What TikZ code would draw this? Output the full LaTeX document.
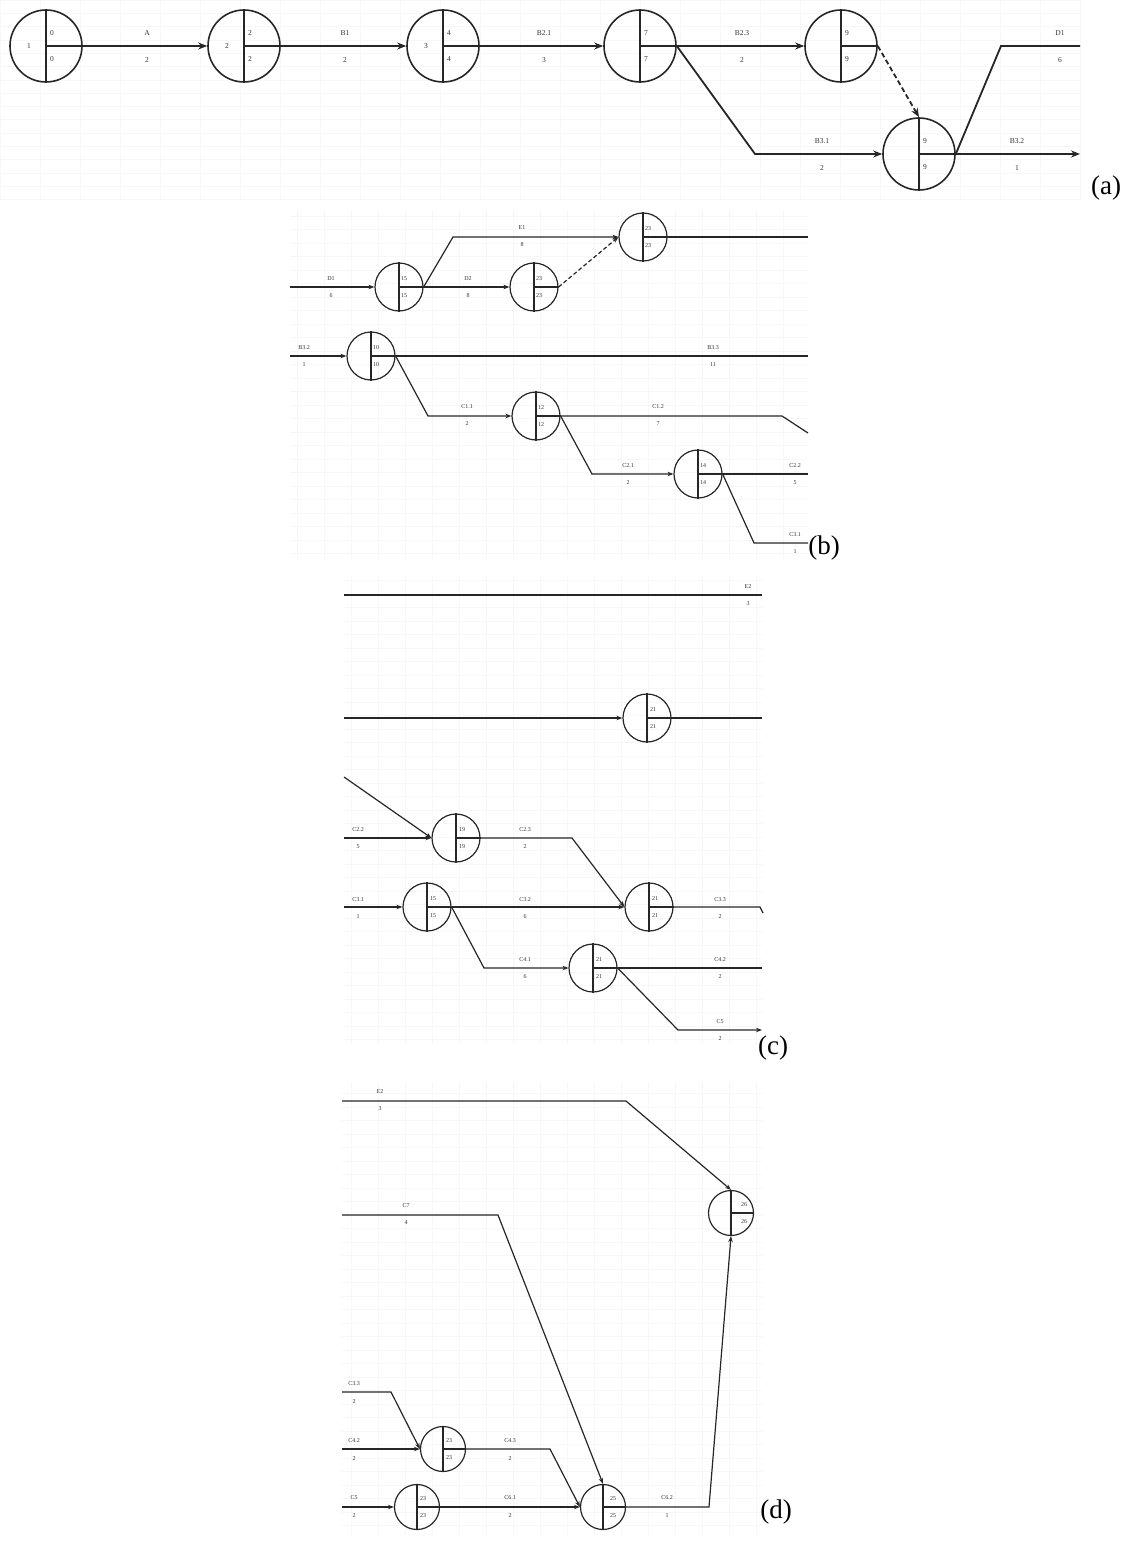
\documentclass[tikz,border=0pt]{standalone}
\usepackage{fontspec}
\setmainfont{Liberation Serif}
\usetikzlibrary{arrows.meta,calc}

\tikzset{
  gridl/.style={draw=black!3, line width=0.5pt},
  eva/.style={circle, draw=black!85, line width=1.6pt, minimum size=72pt, inner sep=0pt},
  evb/.style={circle, draw=black!85, line width=1.2pt, minimum size=48pt, inner sep=0pt},
  evd/.style={circle, draw=black!85, line width=1.2pt, minimum size=45pt, inner sep=0pt},
  linea/.style={draw=black!85, line width=1.8pt},
  lineb/.style={draw=black!85, line width=1.2pt},
  arra/.style={linea, -{Stealth[length=9pt, width=7pt]}},
  arrb/.style={lineb, -{Stealth[length=6pt, width=4.5pt]}},
  txa/.style={font=\fontsize{7.5}{9}\selectfont, text=black!80, inner sep=0pt},
  txb/.style={font=\fontsize{6}{7}\selectfont, text=black!80, inner sep=0pt},
  capt/.style={font=\fontsize{27}{30}\selectfont, inner sep=0pt}
}

% event node of part (a): name, position, top, bottom
\newcommand\evta[4]{%
  \node[eva] (#1) at (#2) {};
  \draw[linea] (#1.north) -- (#1.south);
  \draw[linea] (#1.center) -- (#1.east);
  \node[txa, anchor=west] (#1-t) at ($(#1.center)+(4,-13)$) {#3};
  \node[txa, anchor=west] (#1-b) at ($(#1.center)+(4,13)$) {#4};
}
% event node of parts (b)-(d): style, name, position, top, bottom, text shift
\newcommand\evtb[6]{%
  \node[#1] (#2) at (#3) {};
  \draw[lineb] (#2.north) -- (#2.south);
  \draw[lineb] (#2.center) -- (#2.east);
  \node[txb, anchor=west] (#2-t) at ($(#2.center)+(#6,-8)$) {#4};
  \node[txb, anchor=west] (#2-b) at ($(#2.center)+(#6,9)$) {#5};
}

\begin{document}
\begin{tikzpicture}[x=1pt, y=-1pt]
\useasboundingbox (0,0) rectangle (1126,1541);

% faint background grids
\draw[gridl, xstep=40pt, ystep=13.3pt] (0,0) grid (1080,200);
\draw[gridl, xstep=27pt, ystep=13.5pt] (290,210) grid (808,560);
\draw[gridl, xstep=27pt, ystep=13.5pt] (344,575) grid (762,1045);
\draw[gridl, xstep=27pt, ystep=13.5pt] (342,1082) grid (762,1535);

% ---------------- (a) ----------------
\evta{n1}{46,46}{0}{0}
\evta{n2}{244,46}{2}{2}
\evta{n3}{443,46}{4}{4}
\evta{n4}{640,46}{7}{7}
\evta{n5}{841,46}{9}{9}
\evta{n6}{919,154}{9}{9}
\node[txa] (n1-n) at ($(n1.center)+(-17,0)$) {1};
\node[txa] (n2-n) at ($(n2.center)+(-17,0)$) {2};
\node[txa] (n3-n) at ($(n3.center)+(-17,0)$) {3};

\coordinate (a31) at (755,154);
\coordinate (ad1) at (1001,46);
\coordinate (ad1e) at (1080,46);
\coordinate (a32e) at (1080,154);

\draw[arra] (n1.east) -- (n2.west);
\draw[arra] (n2.east) -- (n3.west);
\draw[arra] (n3.east) -- (n4.west);
\draw[arra] (n4.east) -- (n5.west);
\draw[arra] (n4.east) -- (a31) -- (n6.west);
\draw[arra, dashed, dash pattern=on 5pt off 3pt] (n5.east) -- (n6.north);
\draw[linea] (n6.east) -- (ad1) -- (ad1e);
\draw[arra] (n6.east) -- (a32e);

\node[txa] (lA) at (147,33) {A};      \node[txa] (dA) at (147,60) {2};
\node[txa] (lB1) at (345,33) {B1};    \node[txa] (dB1) at (345,60) {2};
\node[txa] (lB21) at (544,33) {B2.1}; \node[txa] (dB21) at (544,60) {3};
\node[txa] (lB23) at (742,33) {B2.3}; \node[txa] (dB23) at (742,60) {2};
\node[txa] (lB31) at (822,141) {B3.1}; \node[txa] (dB31) at (822,168) {2};
\node[txa] (lD1) at (1060,33) {D1};   \node[txa] (dD1) at (1060,60) {6};
\node[txa] (lB32) at (1017,141) {B3.2}; \node[txa] (dB32) at (1017,168) {1};
\node[capt] (ca) at (1106,188) {(a)};

% ---------------- (b) ----------------
\evtb{evb}{b1}{399,287}{15}{15}{2}
\evtb{evb}{b2}{534,287}{23}{23}{2}
\evtb{evb}{b3}{643,237}{23}{23}{2}
\evtb{evb}{b4}{371,356}{10}{10}{2}
\evtb{evb}{b5}{536,416}{12}{12}{2}
\evtb{evb}{b6}{698,474}{14}{14}{2}

\coordinate (bd1s) at (290,287);
\coordinate (be1) at (453,237);
\coordinate (b3e) at (808,237);
\coordinate (bb32s) at (290,356);
\coordinate (bb33e) at (808,356);
\coordinate (bc11) at (428,416);
\coordinate (bc12) at (782,416);
\coordinate (bc12e) at (808,433);
\coordinate (bc21) at (592,474);
\coordinate (bc22e) at (808,474);
\coordinate (bc31) at (754,543);
\coordinate (bc31e) at (808,543);

\draw[arrb] (bd1s) -- (b1.west);
\draw[arrb] (b1.east) -- (be1) -- (b3.west);
\draw[arrb] (b1.east) -- (b2.west);
\draw[arrb, dashed, dash pattern=on 4pt off 2.5pt] (b2.east) -- (b3.west);
\draw[lineb] (b3.east) -- (b3e);
\draw[arrb] (bb32s) -- (b4.west);
\draw[lineb] (b4.east) -- (bb33e);
\draw[arrb] (b4.east) -- (bc11) -- (b5.west);
\draw[lineb] (b5.east) -- (bc12) -- (bc12e);
\draw[arrb] (b5.east) -- (bc21) -- (b6.west);
\draw[lineb] (b6.east) -- (bc22e);
\draw[lineb] (b6.east) -- (bc31) -- (bc31e);

\node[txb] (lbD1) at (331,279) {D1};   \node[txb] (dbD1) at (331,296) {6};
\node[txb] (lbE1) at (522,228) {E1};   \node[txb] (dbE1) at (522,245) {8};
\node[txb] (lbD2) at (468,279) {D2};   \node[txb] (dbD2) at (468,296) {8};
\node[txb] (lbB32) at (304,348) {B3.2}; \node[txb] (dbB32) at (304,365) {1};
\node[txb] (lbB33) at (713,348) {B3.3}; \node[txb] (dbB33) at (713,365) {11};
\node[txb] (lbC11) at (467,407) {C1.1}; \node[txb] (dbC11) at (467,424) {2};
\node[txb] (lbC12) at (658,407) {C1.2}; \node[txb] (dbC12) at (658,424) {7};
\node[txb] (lbC21) at (628,466) {C2.1}; \node[txb] (dbC21) at (628,483) {2};
\node[txb] (lbC22) at (795,466) {C2.2}; \node[txb] (dbC22) at (795,483) {5};
\node[txb] (lbC31) at (795,535) {C3.1}; \node[txb] (dbC31) at (795,552) {1};
\node[capt] (cb) at (824,548) {(b)};

% ---------------- (c) ----------------
\evtb{evb}{c1}{647,718}{21}{21}{3}
\evtb{evb}{c2}{456,838}{19}{19}{3}
\evtb{evb}{c3}{649,907}{21}{21}{3}
\evtb{evb}{c4}{427,907}{15}{15}{3}
\evtb{evb}{c5}{593,968}{21}{21}{3}

\coordinate (ce2s) at (344,595);
\coordinate (ce2e) at (762,595);
\coordinate (c1s) at (344,718);
\coordinate (c1e) at (762,718);
\coordinate (cdgs) at (344,777);
\coordinate (cc22s) at (344,838);
\coordinate (cc23) at (572,838);
\coordinate (cc31s) at (344,907);
\coordinate (cc33) at (760,907);
\coordinate (cc33e) at (763,913);
\coordinate (cc41) at (484,968);
\coordinate (cc42e) at (762,968);
\coordinate (cc5) at (678,1030);
\coordinate (cc5e) at (762,1030);

\draw[lineb] (ce2s) -- (ce2e);
\draw[arrb] (c1s) -- (c1.west);
\draw[lineb] (c1.east) -- (c1e);
\draw[arrb] (cdgs) -- (c2.west);
\draw[arrb] (cc22s) -- (c2.west);
\draw[arrb] (c2.east) -- (cc23) -- (c3.west);
\draw[arrb] (cc31s) -- (c4.west);
\draw[arrb] (c4.east) -- (c3.west);
\draw[lineb] (c3.east) -- (cc33) -- (cc33e);
\draw[arrb] (c4.east) -- (cc41) -- (c5.west);
\draw[lineb] (c5.east) -- (cc42e);
\draw[arrb] (c5.east) -- (cc5) -- (cc5e);

\node[txb] (lcE2) at (748,587) {E2};   \node[txb] (dcE2) at (748,604) {3};
\node[txb] (lcC22) at (358,830) {C2.2}; \node[txb] (dcC22) at (358,847) {5};
\node[txb] (lcC23) at (525,830) {C2.3}; \node[txb] (dcC23) at (525,847) {2};
\node[txb] (lcC31) at (358,900) {C3.1}; \node[txb] (dcC31) at (358,917) {1};
\node[txb] (lcC32) at (525,900) {C3.2}; \node[txb] (dcC32) at (525,917) {6};
\node[txb] (lcC33) at (720,900) {C3.3}; \node[txb] (dcC33) at (720,917) {2};
\node[txb] (lcC41) at (525,960) {C4.1}; \node[txb] (dcC41) at (525,977) {6};
\node[txb] (lcC42) at (720,960) {C4.2}; \node[txb] (dcC42) at (720,977) {2};
\node[txb] (lcC5) at (720,1022) {C5};   \node[txb] (dcC5) at (720,1039) {2};
\node[capt] (cc) at (773,1048) {(c)};

% ---------------- (d) ----------------
\evtb{evd}{d1}{731,1213}{26}{26}{10}
\evtb{evd}{d2}{443,1449}{23}{23}{3}
\evtb{evd}{d3}{417,1507}{23}{23}{3}
\evtb{evd}{d4}{603,1507}{25}{25}{7}

\coordinate (de2s) at (342,1101);
\coordinate (de2) at (626,1101);
\coordinate (dc7s) at (342,1215);
\coordinate (dc7) at (498,1215);
\coordinate (dc62) at (709,1507);
\coordinate (dc33s) at (342,1392);
\coordinate (dc33) at (391,1392);
\coordinate (dc42s) at (342,1449);
\coordinate (dc43) at (550,1449);
\coordinate (dc5s) at (342,1507);

\draw[arrb] (de2s) -- (de2) -- (d1.north);
\draw[arrb] (dc7s) -- (dc7) -- (d4.north);
\draw[arrb] (d4.east) -- (dc62) -- (d1.south);
\draw[arrb] (dc33s) -- (dc33) -- (d2.west);
\draw[arrb] (dc42s) -- (d2.west);
\draw[arrb] (d2.east) -- (dc43) -- (d4.west);
\draw[arrb] (dc5s) -- (d3.west);
\draw[arrb] (d3.east) -- (d4.west);

\node[txb] (ldE2) at (380,1092) {E2};   \node[txb] (ddE2) at (380,1109) {3};
\node[txb] (ldC7) at (406,1206) {C7};   \node[txb] (ddC7) at (406,1223) {4};
\node[txb] (ldC33) at (354,1384) {C3.3}; \node[txb] (ddC33) at (354,1401) {2};
\node[txb] (ldC42) at (354,1441) {C4.2}; \node[txb] (ddC42) at (354,1458) {2};
\node[txb] (ldC43) at (510,1441) {C4.3}; \node[txb] (ddC43) at (510,1458) {2};
\node[txb] (ldC5) at (354,1498) {C5};   \node[txb] (ddC5) at (354,1515) {2};
\node[txb] (ldC61) at (510,1498) {C6.1}; \node[txb] (ddC61) at (510,1515) {2};
\node[txb] (ldC62) at (667,1498) {C6.2}; \node[txb] (ddC62) at (667,1515) {1};
\node[capt] (cd) at (776,1512) {(d)};
\end{tikzpicture}
\end{document}
